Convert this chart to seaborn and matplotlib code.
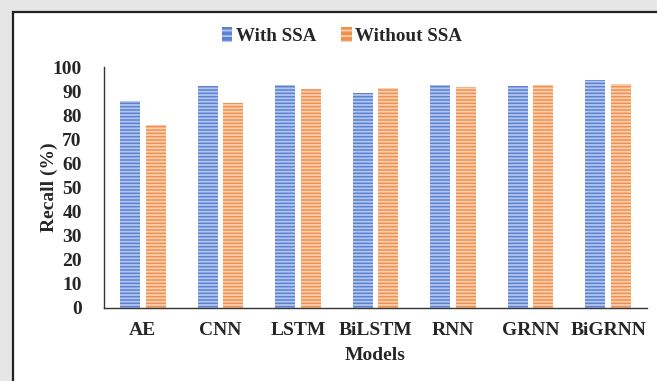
import matplotlib
matplotlib.use("Agg")
import matplotlib.pyplot as plt
from matplotlib.patches import Rectangle
import seaborn as sns
import pandas as pd

models = ["AE", "CNN", "LSTM", "BiLSTM", "RNN", "GRNN", "BiGRNN"]
with_ssa = [85.9, 92.1, 92.4, 89.2, 92.4, 92.1, 94.5]
without_ssa = [75.8, 85.1, 90.9, 91.2, 91.7, 92.4, 93.0]
series = ["With SSA", "Without SSA"]
y_ticks = [0, 10, 20, 30, 40, 50, 60, 70, 80, 90, 100]

df = pd.DataFrame({
    "Models": models * 2,
    "Recall": with_ssa + without_ssa,
    "Series": [series[0]] * len(models) + [series[1]] * len(models),
})

sns.set_style("white")
plt.rcParams["font.family"] = ["Liberation Serif", "DejaVu Serif"]
plt.rcParams["font.weight"] = "bold"
plt.rcParams["hatch.linewidth"] = 1.3

FS = 14

fig = plt.figure(figsize=(6.57, 3.81), dpi=100)
fig.patch.set_facecolor("#e6e6e6")

# white chart frame with a dark border running off the right and bottom edges
frame = Rectangle((13 / 657, -0.05), 1.0, 1 - 12 / 381 + 0.05,
                  transform=fig.transFigure, facecolor="white",
                  edgecolor="#222222", linewidth=1.6, zorder=-10)
fig.patches.append(frame)

ax = fig.add_axes([104 / 657, 1 - 308 / 381, (647 - 104) / 657, (308 - 67) / 381])
ax.set_facecolor("none")

face = {"With SSA": "#5b81d2", "Without SSA": "#f0904f"}
stripe = {"With SSA": "#b3c6ee", "Without SSA": "#fbd0b0"}

sns.barplot(data=df, x="Models", y="Recall", hue="Series", hue_order=series,
            palette=face, width=0.66, gap=0.22, ax=ax, legend=False,
            saturation=1.0)

for cont, name in zip(ax.containers, series):
    for bar in cont:
        bar.set_hatch("-----")
        bar.set_edgecolor(stripe[name])
        bar.set_linewidth(0)

ax.set_ylim(0, 100)
ax.set_yticks(y_ticks)
ax.set_xlim(-0.5, len(models) - 0.5)
ax.tick_params(axis="both", length=0, labelsize=FS)
ax.tick_params(axis="y", pad=16)
ax.tick_params(axis="x", pad=10)
for lab in ax.get_xticklabels() + ax.get_yticklabels():
    lab.set_fontweight("bold")

ax.set_xlabel("Models", fontsize=FS, fontweight="bold", labelpad=6)
ax.set_ylabel("Recall (%)", fontsize=FS, fontweight="bold", labelpad=-4)

for side in ["top", "right"]:
    ax.spines[side].set_visible(False)
for side in ["left", "bottom"]:
    ax.spines[side].set_color("#333333")
    ax.spines[side].set_linewidth(1.0)

handles = []
for name in series:
    h = Rectangle((0, 0), 1, 1, facecolor=face[name], edgecolor=stripe[name],
                  hatch="---", linewidth=0)
    handles.append(h)
fig.legend(handles, series, loc="center", bbox_to_anchor=(342 / 657, 1 - 36 / 381),
           ncol=2, frameon=False, handlelength=0.55,
           handleheight=0.8, handletextpad=0.2, columnspacing=1.3,
           prop={"weight": "bold", "size": 13.7})

fig.savefig("out.png", dpi=100, facecolor=fig.get_facecolor())
